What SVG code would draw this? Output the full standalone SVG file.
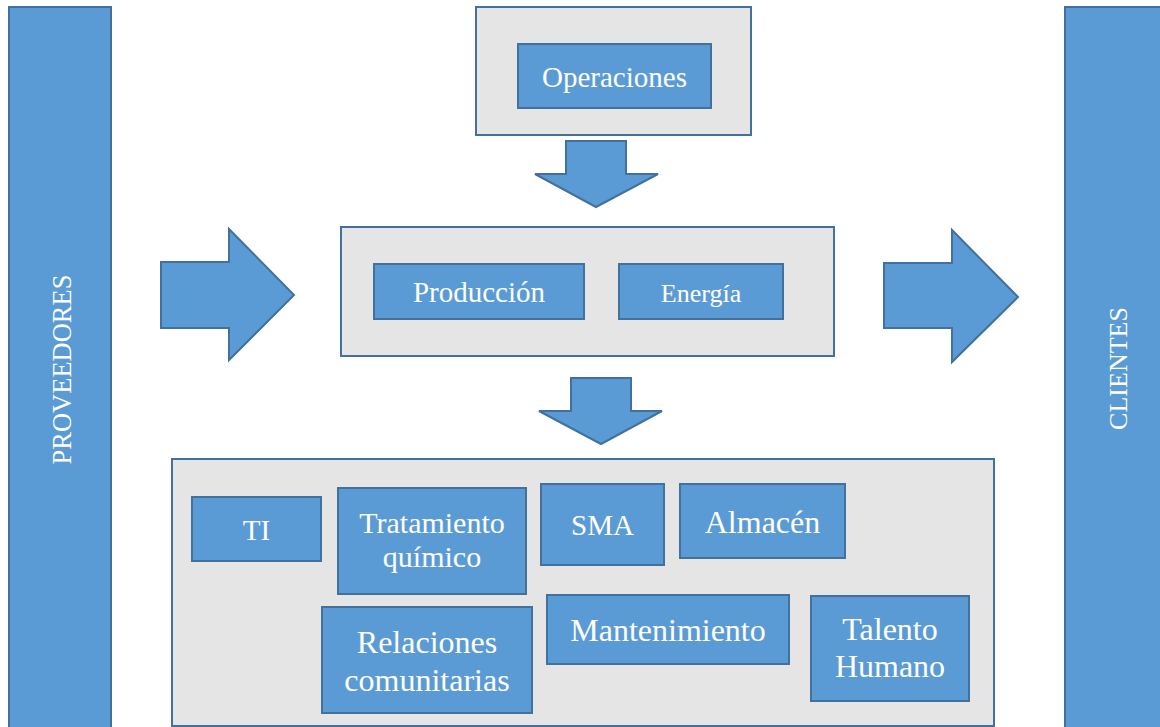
<svg xmlns="http://www.w3.org/2000/svg" width="1160" height="727" viewBox="0 0 1160 727">
<style>
.bar{fill:#5B9BD5;stroke:#41719C;stroke-width:2}
.grp{fill:#E5E5E5;stroke:#41719C;stroke-width:2}
.box{fill:#5B9BD5;stroke:#41719C;stroke-width:2}
.arr{fill:#5B9BD5;stroke:#41719C;stroke-width:2;stroke-linejoin:miter}
.t{fill:#FFFFFF;text-anchor:middle}
</style>
<rect width="1160" height="727" fill="#FFFFFF"/>
<g font-family="Liberation Serif, Times New Roman, serif">
<g id="proveedores">
<rect class="bar" x="9" y="7" width="102" height="740"/>
<text class="t" transform="translate(71,369.5) rotate(-90)" font-size="26.5">PROVEEDORES</text>
</g>
<g id="clientes">
<rect class="bar" x="1065" y="7" width="110" height="740"/>
<text class="t" transform="translate(1127,368.5) rotate(-90)" font-size="26">CLIENTES</text>
</g>
<g id="grupo-operaciones">
<rect class="grp" x="476" y="7" width="275" height="128"/>
<g id="operaciones">
<rect class="box" x="518" y="44" width="193" height="64"/>
<text class="t" x="614.5" y="87" font-size="29">Operaciones</text>
</g>
</g>
<g id="grupo-produccion">
<rect class="grp" x="341" y="227" width="493" height="129"/>
<g id="produccion">
<rect class="box" x="374" y="264" width="210" height="55"/>
<text class="t" x="479" y="302" font-size="29">Producción</text>
</g>
<g id="energia">
<rect class="box" x="619" y="264" width="164" height="55"/>
<text class="t" x="701" y="302" font-size="26">Energía</text>
</g>
</g>
<g id="grupo-soporte">
<rect class="grp" x="172" y="459" width="822" height="267"/>
<g id="ti">
<rect class="box" x="192" y="497" width="129" height="64"/>
<text class="t" x="256.5" y="540" font-size="29">TI</text>
</g>
<g id="tratamiento">
<rect class="box" x="338" y="488" width="188" height="106"/>
<text class="t" x="432" y="533" font-size="30">Tratamiento</text>
<text class="t" x="432" y="567" font-size="30">químico</text>
</g>
<g id="sma">
<rect class="box" x="541" y="484" width="123" height="81"/>
<text class="t" x="602.5" y="535" font-size="29">SMA</text>
</g>
<g id="almacen">
<rect class="box" x="680" y="484" width="165" height="74"/>
<text class="t" x="762.5" y="533" font-size="32">Almacén</text>
</g>
<g id="relaciones">
<rect class="box" x="322" y="607" width="210" height="106"/>
<text class="t" x="427" y="653" font-size="32">Relaciones</text>
<text class="t" x="427" y="691" font-size="32">comunitarias</text>
</g>
<g id="mantenimiento">
<rect class="box" x="547" y="595" width="242" height="69"/>
<text class="t" x="668" y="641" font-size="32">Mantenimiento</text>
</g>
<g id="talento">
<rect class="box" x="811" y="596" width="158" height="105"/>
<text class="t" x="890" y="640" font-size="32">Talento</text>
<text class="t" x="890" y="677" font-size="32">Humano</text>
</g>
</g>
</g>
<g id="connectors">
<polygon class="arr" points="161,262 229,262 229,229 294,295 229,360 229,328 161,328"/>
<polygon class="arr" points="884,263 952,263 952,230 1018,297 952,362 952,328 884,328"/>
<polygon class="arr" points="566,141 626,141 626,174 658,174 596,207 535,174 566,174"/>
<polygon class="arr" points="571,378 631,378 631,411 662,411 601,444 539,411 571,411"/>
</g>
</svg>
